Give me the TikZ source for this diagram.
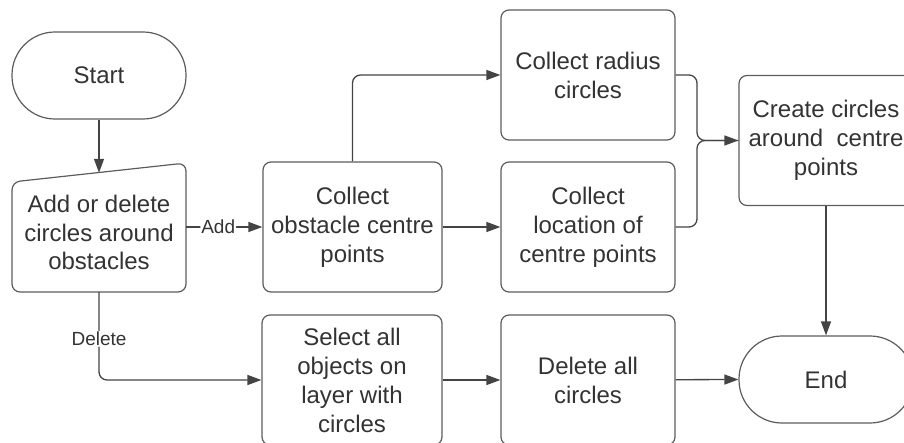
\documentclass[tikz,border=0pt]{standalone}
\usepackage{fontspec}
\setmainfont{Liberation Sans}
\usetikzlibrary{arrows.meta}
\definecolor{inkgray}{HTML}{333333}
\definecolor{edgegray}{HTML}{5C5C5C}
\definecolor{linegray}{HTML}{444444}
\tikzset{
  procbox/.style={draw=edgegray, line width=1.2pt, rounded corners=8pt,
    minimum width=174pt, minimum height=130pt, align=center,
    text=inkgray, font=\fontsize{24}{29}\selectfont, inner sep=0pt},
  terminal/.style={draw=edgegray, line width=1.2pt, rounded corners=43pt,
    minimum width=174pt, minimum height=87pt, align=center,
    text=inkgray, font=\fontsize{24}{29}\selectfont, inner sep=0pt},
  flow/.style={draw=linegray, line width=1.3pt, rounded corners=8pt,
    -{Triangle[length=14pt,width=10pt]}},
  plainflow/.style={draw=linegray, line width=1.3pt, rounded corners=8pt},
  edgelabel/.style={fill=white, text=inkgray, inner sep=1pt,
    font=\fontsize{19}{21}\selectfont}
}
\begin{document}
\begin{tikzpicture}[x=1pt,y=-1pt]
\useasboundingbox (0,0) rectangle (904,443);

% terminals
\node[terminal] (start) at (99,75.5) {Start};
\node[terminal] (stop) at (826,379.5) {End};

% manual input step
\draw[draw=edgegray, line width=1.2pt, rounded corners=8pt]
  (12,182) -- (186,163) -- (186,292) -- (12,292) -- cycle;
\node[minimum width=174pt, minimum height=119pt, inner sep=0pt,
  align=center, text=inkgray, font=\fontsize{24}{28.5}\selectfont]
  (decide) at (99,232.5) {Add or delete\\circles around\\obstacles};

% process steps
\node[procbox, minimum width=179pt] (obst) at (352.5,227) {Collect\\obstacle centre\\points};
\node[procbox] (radius) at (588,75) {Collect radius\\circles};
\node[procbox] (loc) at (588,227) {Collect\\location of\\centre points};
\node[procbox] (create) at (826,140.5) {Create circles\\around\ \ centre\\points};
\node[procbox, minimum width=180pt] (select) at (352,380) {Select all\\objects on\\layer with\\circles};
\node[procbox] (delall) at (588,380) {Delete all\\circles};

% junction point in front of the create step
\coordinate (merge) at (697,140.5);

% connectors
\draw[flow] (start) -- (decide.north);
\draw[flow] (obst.west -| decide.east) -- node[edgelabel, pos=0.42] (addlbl) {Add} (obst.west);
\draw[flow] (decide.south) -- node[edgelabel, pos=0.53] (dellbl) {Delete} (decide.south |- select.west) -- (select.west);
\draw[flow] (obst) -- (loc);
\draw[flow] (obst.north) |- (radius.west);
\draw[flow] (radius.east) -| (merge) -- (create.west);
\draw[plainflow] (loc.east) -| (merge) -- (create.west);
\draw[flow] (create.south) -- (stop.north);
\draw[flow] (select) -- (delall);
\draw[flow] (delall) -- (stop.west);
\end{tikzpicture}
\end{document}
